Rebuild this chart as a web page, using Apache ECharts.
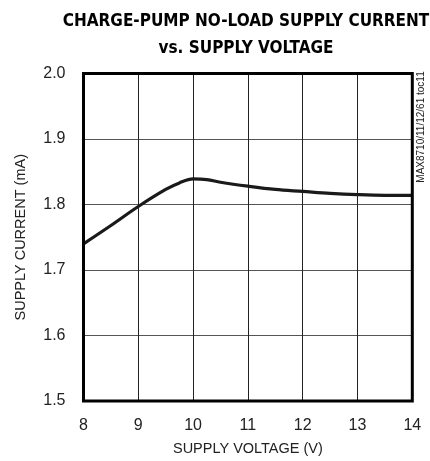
<!DOCTYPE html>
<html><head><meta charset="utf-8">
<script src="https://cdn.jsdelivr.net/npm/echarts@6/dist/echarts.min.js"></script>
<style>html,body{margin:0;padding:0;background:#fff}#c{width:430px;height:461px}</style>
</head><body><div id="c"></div>
<script>
var voltage = [8, 8.5, 9, 9.5, 9.75, 10, 10.25, 10.5, 11, 11.5, 12, 12.5, 13, 13.5, 14];
var current = [1.74, 1.768, 1.797, 1.823, 1.833, 1.839, 1.838, 1.834, 1.828, 1.823, 1.82, 1.817, 1.815, 1.814, 1.814];
var xTicks = [8, 9, 10, 11, 12, 13, 14];
var yTicks = [1.5, 1.6, 1.7, 1.8, 1.9, 2.0];
var titleText = 'CHARGE-PUMP NO-LOAD SUPPLY CURRENT\nvs. SUPPLY VOLTAGE';
var xName = 'SUPPLY VOLTAGE (V)';
var yName = 'SUPPLY CURRENT (mA)';
var sideNote = 'MAX8710/11/12/61 toc11';

var chart = echarts.init(document.getElementById('c'), null, {renderer: 'canvas'});
var narrow = '"Liberation Sans Narrow", "Liberation Sans", sans-serif';
chart.setOption({
  animation: false,
  backgroundColor: '#fff',
  title: {
    text: titleText,
    left: 241, top: 3, textAlign: 'center',
    textStyle: {fontFamily: '"DejaVu Sans Condensed", "DejaVu Sans", sans-serif', fontWeight: 'bold', fontSize: 17, lineHeight: 27, color: '#000'}
  },
  grid: {left: 83.5, right: 17.7, top: 73.5, bottom: 59.3, show: true, borderColor: '#000', borderWidth: 3, backgroundColor: 'transparent', z: 10},
  xAxis: {
    type: 'value', min: xTicks[0], max: xTicks[xTicks.length - 1], interval: 1,
    name: xName, nameLocation: 'middle', nameGap: 40,
    nameTextStyle: {fontFamily: narrow, fontSize: 14.5, color: '#222'},
    axisLine: {show: false}, axisTick: {show: false},
    axisLabel: {fontFamily: narrow, fontSize: 16, color: '#222', margin: 17},
    splitLine: {show: true, lineStyle: {color: '#222', width: 1}}
  },
  yAxis: {
    type: 'value', min: yTicks[0], max: yTicks[yTicks.length - 1], interval: 0.1,
    name: yName, nameLocation: 'middle', nameGap: 55,
    nameTextStyle: {fontFamily: narrow, fontSize: 14.5, color: '#222'},
    axisLine: {show: false}, axisTick: {show: false},
    axisLabel: {fontFamily: narrow, fontSize: 16, color: '#222', margin: 18, formatter: function (v) { return v.toFixed(1); }},
    splitLine: {show: true, lineStyle: {color: '#555', width: 1}}
  },
  graphic: [{
    type: 'text', x: 421, y: 127, rotation: Math.PI / 2,
    style: {text: sideNote, fontFamily: narrow, fontSize: 10, fill: '#222', textAlign: 'center', textVerticalAlign: 'middle'}
  }],
  series: [{
    type: 'line', data: voltage.map(function (v, i) { return [v, current[i]]; }),
    smooth: 0.35, showSymbol: false, lineStyle: {color: '#1a1a1a', width: 3.2}, z: 5
  }]
});
</script></body></html>
